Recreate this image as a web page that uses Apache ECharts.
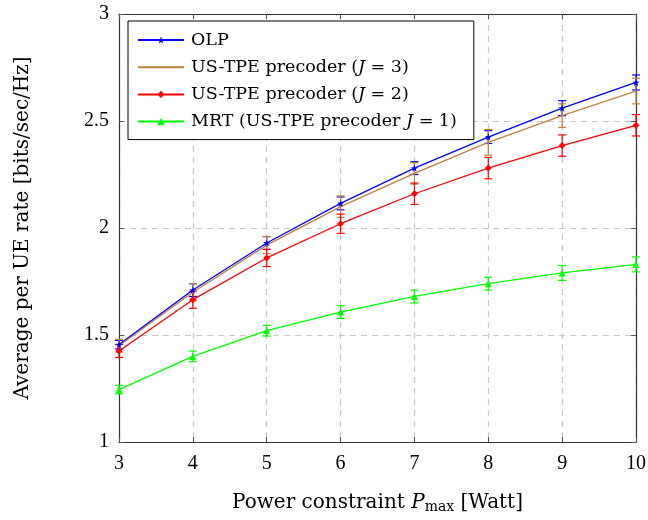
<!DOCTYPE html>
<html>
<head>
<meta charset="utf-8">
<script src="https://cdn.jsdelivr.net/npm/echarts@6/dist/echarts.min.js"></script>
<style>
  html, body { margin: 0; padding: 0; background: #fff; }
  #chart { width: 648px; height: 520px; }
</style>
</head>
<body>
<div id="chart"></div>
<script>
// Transmit power budget (Watt)
const powers = [3, 4, 5, 6, 7, 8, 9, 10];
const xTicks = [3, 4, 5, 6, 7, 8, 9, 10];
const yTicks = [1, 1.5, 2, 2.5, 3];

// Average per-UE rate (bits/sec/Hz) and error-bar half widths
const olpRate   = [1.455, 1.71, 1.93, 2.115, 2.28, 2.425, 2.56, 2.68];
const olpErr    = [0.02, 0.03, 0.03, 0.03, 0.03, 0.03, 0.035, 0.035];
const tpe3Rate  = [1.45, 1.70, 1.92, 2.10, 2.255, 2.40, 2.525, 2.64];
const tpe3Err   = [0.03, 0.04, 0.04, 0.05, 0.05, 0.06, 0.055, 0.06];
const tpe2Rate  = [1.425, 1.665, 1.86, 2.02, 2.16, 2.28, 2.385, 2.48];
const tpe2Err   = [0.03, 0.04, 0.04, 0.045, 0.05, 0.05, 0.05, 0.05];
const mrtRate   = [1.245, 1.40, 1.52, 1.607, 1.68, 1.74, 1.79, 1.83];
const mrtErr    = [0.02, 0.025, 0.025, 0.03, 0.03, 0.03, 0.035, 0.035];

const FONT = 'DejaVu Serif';
const NUM_FONT = 'Liberation Serif';
const STAR = 'path://M0,-10 L2.35,-3.24 L9.51,-3.09 L3.8,1.24 L5.88,8.09 L0,4 L-5.88,8.09 L-3.8,1.24 L-9.51,-3.09 L-2.35,-3.24 Z';

const seriesDefs = [
  { name: 'OLP', rate: olpRate, err: olpErr, color: '#0000ff', symbol: STAR, size: 7 },
  { name: 'tpe3', rate: tpe3Rate, err: tpe3Err, color: '#bf8040', symbol: 'none', size: 0 },
  { name: 'tpe2', rate: tpe2Rate, err: tpe2Err, color: '#ff0000', symbol: 'diamond', size: 7 },
  { name: 'mrt', rate: mrtRate, err: mrtErr, color: '#00ff00', symbol: 'triangle', size: 7 }
];

function errorBarSeries(def) {
  const data = powers.map((p, i) => [p, def.rate[i] - def.err[i], def.rate[i] + def.err[i]]);
  return {
    type: 'custom',
    name: def.name + '-err',
    z: 3,
    data: data,
    encode: { x: 0, y: [1, 2] },
    renderItem: function (params, api) {
      const x = api.value(0);
      const top = api.coord([x, api.value(2)]);
      const bot = api.coord([x, api.value(1)]);
      const hw = 4;
      const st = { stroke: def.color, lineWidth: 1.2 };
      return {
        type: 'group',
        children: [
          { type: 'line', shape: { x1: top[0], y1: top[1], x2: bot[0], y2: bot[1] }, style: st },
          { type: 'line', shape: { x1: top[0] - hw, y1: top[1], x2: top[0] + hw, y2: top[1] }, style: st },
          { type: 'line', shape: { x1: bot[0] - hw, y1: bot[1], x2: bot[0] + hw, y2: bot[1] }, style: st }
        ]
      };
    }
  };
}

function lineSeries(def) {
  return {
    type: 'line',
    name: def.name,
    z: 4,
    data: powers.map((p, i) => [p, def.rate[i]]),
    symbol: def.symbol,
    symbolSize: def.size,
    showSymbol: def.symbol !== 'none',
    lineStyle: { color: def.color, width: 1.3 },
    itemStyle: { color: def.color },
    emphasis: { disabled: true }
  };
}

const legendNames = {
  OLP: 'OLP',
  tpe3: 'US-TPE precoder ({it|J} = 3)',
  tpe2: 'US-TPE precoder ({it|J} = 2)',
  mrt: 'MRT (US-TPE precoder {it|J} = 1)'
};

const chart = echarts.init(document.getElementById('chart'));
const gridLine = { show: true, lineStyle: { color: '#c8c8c8', type: [6, 5], width: 1.2 } };
const tickIn = { show: true, inside: true, length: 5, lineStyle: { color: '#555' } };

chart.setOption({
  animation: false,
  backgroundColor: '#fff',
  textStyle: { fontFamily: FONT },
  grid: { left: 119, right: 12, top: 14, bottom: 78, containLabel: false, outerBoundsMode: 'none' },
  legend: {
    orient: 'vertical',
    left: 128,
    top: 21,
    data: [
      { name: 'OLP' },
      { name: 'tpe3', itemStyle: { opacity: 0 } },
      { name: 'tpe2' },
      { name: 'mrt' }
    ],
    itemWidth: 46,
    itemHeight: 9,
    itemGap: 9.2,
    padding: [10, 17, 9, 9],
    backgroundColor: '#fff',
    borderColor: '#000',
    borderWidth: 1,
    borderRadius: 0,
    formatter: n => legendNames[n],
    textStyle: {
      fontFamily: FONT, fontSize: 17.5, color: '#000', padding: [0, 0, 0, 2],
      rich: { it: { fontFamily: FONT, fontStyle: 'italic', fontSize: 17.5 } }
    }
  },
  xAxis: [{
    type: 'value', min: 3, max: 10, interval: 1,
    axisLine: { show: true, lineStyle: { color: '#333', width: 1.2 } },
    axisTick: tickIn,
    splitLine: gridLine,
    axisLabel: { color: '#000', fontSize: 20, margin: 12, fontFamily: NUM_FONT },
    name: '{n|Power constraint }{it|P}{sub|max}{n| [Watt]}',
    nameLocation: 'middle',
    nameGap: 50,
    nameTextStyle: {
      rich: {
        n: { fontSize: 20, fontFamily: FONT, color: '#000' },
        it: { fontSize: 20, fontFamily: FONT, fontStyle: 'italic', color: '#000' },
        sub: { fontSize: 14, fontFamily: FONT, color: '#000', padding: [8, 0, 0, 0] }
      }
    }
  }, {
    type: 'value', min: 3, max: 10, interval: 1, position: 'top',
    axisLine: { show: true, lineStyle: { color: '#333', width: 1.2 } },
    axisTick: tickIn, axisLabel: { show: false }, splitLine: { show: false }
  }],
  yAxis: [{
    type: 'value', min: 1, max: 3, interval: 0.5,
    axisLine: { show: true, lineStyle: { color: '#333', width: 1.2 } },
    axisTick: tickIn,
    splitLine: gridLine,
    axisLabel: { color: '#000', fontSize: 20, margin: 10, fontFamily: NUM_FONT },
    name: 'Average per UE rate [bits/sec/Hz]',
    nameLocation: 'middle',
    nameGap: 86,
    nameTextStyle: { fontSize: 20, fontFamily: FONT, color: '#000' }
  }, {
    type: 'value', min: 1, max: 3, interval: 0.5, position: 'right',
    axisLine: { show: true, lineStyle: { color: '#333', width: 1.2 } },
    axisTick: tickIn, axisLabel: { show: false }, splitLine: { show: false }
  }],
  series: [
    ...seriesDefs.map(errorBarSeries),
    ...seriesDefs.map(lineSeries)
  ]
});
</script>
</body>
</html>
